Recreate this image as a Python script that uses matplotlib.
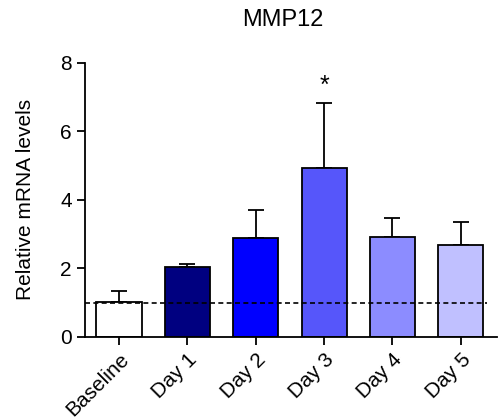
import numpy as np
import matplotlib.pyplot as plt

plt.rcParams['font.family'] = ['Liberation Sans', 'DejaVu Sans']

# Data
groups = ['Baseline', 'Day 1', 'Day 2', 'Day 3', 'Day 4', 'Day 5']
means = [1.02, 2.04, 2.89, 4.92, 2.92, 2.68]
errors = [0.32, 0.10, 0.82, 1.90, 0.56, 0.67]
colors = ['#FFFFFF', '#000080', '#0000FF', '#5656FA', '#8C8CFF', '#C0C0FF']
signif = ['', '', '', '*', '', '']

fig = plt.figure(figsize=(4.99, 4.19), dpi=100)
ax = fig.add_axes([0.170, 0.196, 0.826, 0.654])

x = np.arange(len(groups))
ax.bar(x, means, width=0.66, color=colors, edgecolor='black', linewidth=1.3, zorder=2)
ax.errorbar(x, means, yerr=[np.zeros(len(errors)), errors], fmt='none',
            ecolor='black', elinewidth=1.3, capsize=6, capthick=1.3, zorder=1)

# reference line at 1
ax.plot([-0.5, 5.38], [1, 1], color='black', linestyle=(0, (3, 2)), linewidth=1.2, zorder=3)

# significance marks
for xi, m, e, s in zip(x, means, errors, signif):
    if s:
        ax.text(xi, m + e + 0.15, s, ha='center', va='bottom', fontsize=18)

ax.set_xlim(-0.5, 5.53)
ax.set_ylim(0, 8)
ax.set_yticks([0, 2, 4, 6, 8])
ax.set_xticks(x)
ax.set_xticklabels(groups, rotation=45, ha='right', rotation_mode='anchor')
ax.tick_params(axis='both', labelsize=15, width=1.3, length=6, direction='out')
ax.set_ylabel('Relative mRNA levels', fontsize=15, labelpad=18)
fig.text(0.567, 0.952, 'MMP12', ha='center', va='center', fontsize=17)

for side in ['top', 'right']:
    ax.spines[side].set_visible(False)
for side in ['left', 'bottom']:
    ax.spines[side].set_linewidth(1.3)

fig.savefig('out.png', dpi=100)
